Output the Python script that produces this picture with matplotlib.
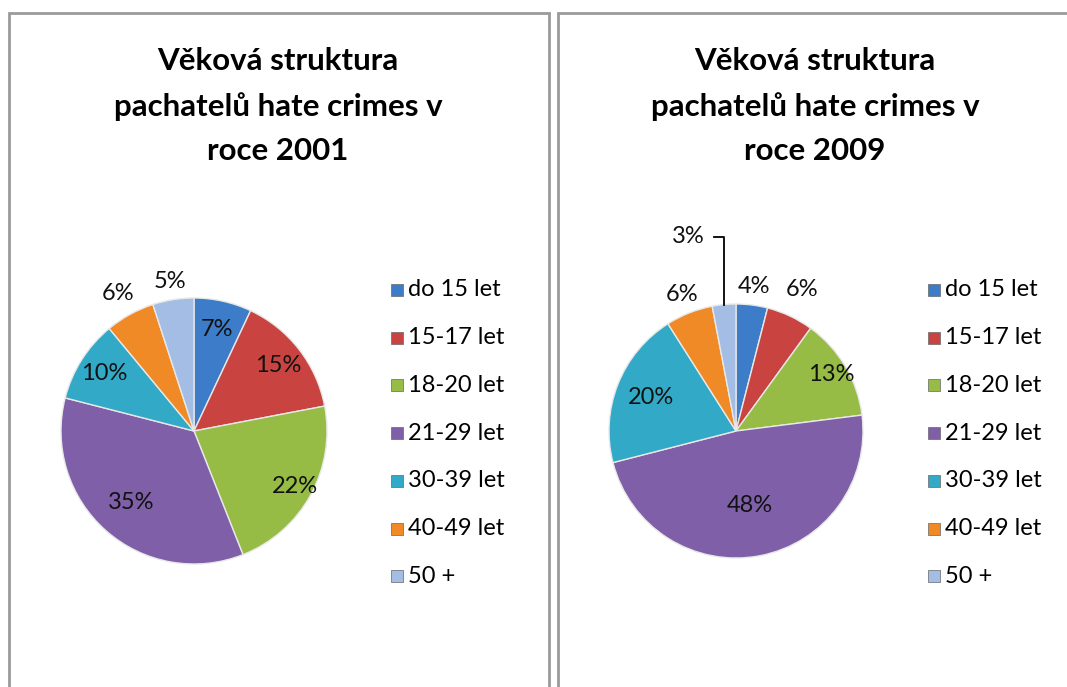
import numpy as np
import matplotlib.pyplot as plt
from matplotlib.patches import Rectangle

categories = ['do 15 let', '15-17 let', '18-20 let', '21-29 let',
              '30-39 let', '40-49 let', '50 +']
values_2001 = [7, 15, 22, 35, 10, 6, 5]
values_2009 = [4, 6, 13, 48, 20, 6, 3]
titles = ['Věková struktura\npachatelů hate crimes v\nroce 2001',
          'Věková struktura\npachatelů hate crimes v\nroce 2009']

colors = ['#3d7cc9', '#c94440', '#96bc45', '#7f5fa8', '#33a9c8', '#f08a26', '#a3bde4']

W, H = 1067, 687
plt.rcParams['font.family'] = ['Lato', 'DejaVu Sans']
fig = plt.figure(figsize=(W / 100, H / 100), dpi=100)

# panel borders
for x0, x1 in [(9, 549), (558, 1075)]:
    fig.patches.append(Rectangle((x0 / W, -0.05), (x1 - x0) / W, (H - 13) / H + 0.05,
                                 transform=fig.transFigure, fill=False,
                                 edgecolor='#9a9a9a', linewidth=2))


def pie_panel(vals, title, cx, cy, r, title_x, leg_x, label_r, leader=None):
    half = 170
    ax = fig.add_axes([(cx - half) / W, (H - cy - half) / H, 2 * half / W, 2 * half / H])
    lim = half / r
    wedges, _ = ax.pie(vals, colors=colors, startangle=90, counterclock=False,
                       radius=1, wedgeprops=dict(edgecolor='#e8e8e8', linewidth=1))
    ax.set_xlim(-lim, lim)
    ax.set_ylim(-lim, lim)
    ax.set_aspect('equal')
    ax.axis('off')
    for w, v, f in zip(wedges, vals, label_r):
        if f is None:
            continue
        a = np.deg2rad((w.theta1 + w.theta2) / 2)
        ax.text(f * np.cos(a), f * np.sin(a), f'{v}%', ha='center', va='center',
                fontsize=17, color='#111111')
    if leader is not None:
        i, tx, ty = leader
        w = wedges[i]
        a = np.deg2rad((w.theta1 + w.theta2) / 2)
        px, py = np.cos(a), np.sin(a)
        ax.plot([px, px, tx + 0.08], [py, ty, ty], color='black', lw=1.3, clip_on=False)
        ax.text(tx, ty, f'{vals[i]}%', ha='right', va='center', fontsize=17, color='#111111')

    fig.text(title_x / W, 1 - 47 / H, title, ha='center', va='top', fontsize=22.5,
             fontweight='bold', linespacing=1.7)

    for k, (c, lab) in enumerate(zip(colors, categories)):
        y = 290 + k * 47.7
        fig.patches.append(Rectangle(((leg_x - 6) / W, (H - y - 6) / H), 12 / W, 12 / H,
                                     transform=fig.transFigure, facecolor=c,
                                     edgecolor='#666666', linewidth=0.5))
        fig.text((leg_x + 11) / W, (H - y) / H, lab, ha='left', va='center', fontsize=17)


pie_panel(values_2001, titles[0], 194, 431, 133, 278, 397,
          [0.78, 0.8, 0.87, 0.72, 0.8, 1.18, 1.14])
pie_panel(values_2009, titles[1], 736, 431, 127, 815, 934,
          [1.15, 1.23, 0.87, 0.6, 0.72, 1.16, None],
          leader=(6, -0.25, 1.53))

fig.savefig('out.png', dpi=100)
